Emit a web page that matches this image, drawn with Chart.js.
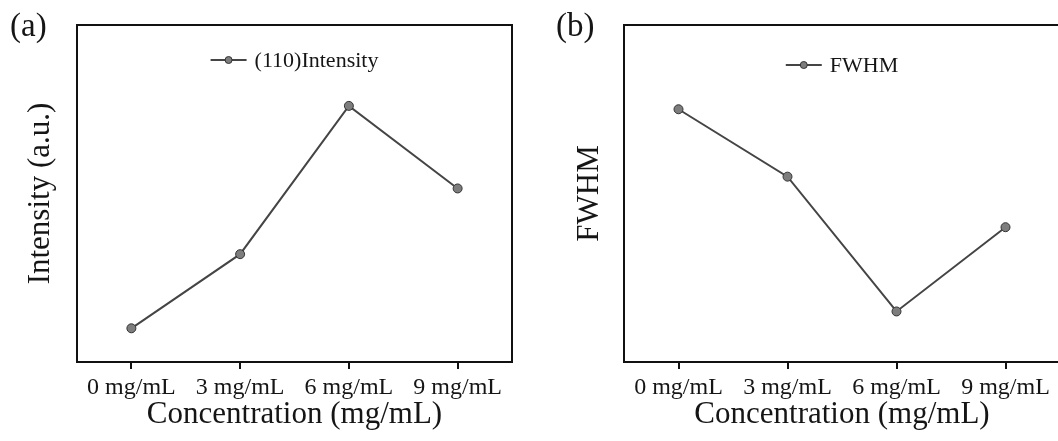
<!DOCTYPE html>
<html>
<head>
<meta charset="utf-8">
<script src="https://cdn.jsdelivr.net/npm/chart.js@4.4.0/dist/chart.umd.min.js"></script>
<style>
html, body { margin: 0; padding: 0; background: #fff; overflow: hidden; width: 1058px; height: 441px; }
.panel { position: absolute; top: 0; height: 441px; }
#pa { left: 0; width: 530px; }
#pb { left: 540px; width: 540px; }
.tag { position: absolute; top: 5px; font: 33px "Liberation Serif", "Times New Roman", serif; color: #151515; line-height: 40px; }
</style>
</head>
<body>
<div class="panel" id="pa"><canvas id="chartA" width="530" height="441"></canvas></div>
<div class="panel" id="pb"><canvas id="chartB" width="540" height="441"></canvas></div>
<div class="tag" style="left:10px">(a)</div>
<div class="tag" style="left:556px">(b)</div>
<script>
"use strict";

const categories = ['0 mg/mL', '3 mg/mL', '6 mg/mL', '9 mg/mL'];
const intensityValues = [10, 32, 76, 51.5];
const fwhmValues = [75, 55, 15, 40];

const SERIF = '"Liberation Serif", "Times New Roman", serif';
const INK = '#151515';

// black box round the plot area
const frame = {
    id: 'frame',
    afterDraw(chart) {
        const {ctx, chartArea: a} = chart;
        ctx.save();
        ctx.strokeStyle = '#111';
        ctx.lineWidth = 2;
        ctx.strokeRect(a.left, a.top, a.right - a.left, a.bottom - a.top);
        ctx.restore();
    }
};

// legend inside the plot: short line with a dot, then the label
const lineLegend = {
    id: 'lineLegend',
    afterDraw(chart, args, o) {
        const {ctx, chartArea: a} = chart;
        const ds = chart.data.datasets[0];
        ctx.save();
        ctx.font = '22px ' + SERIF;
        const tw = ctx.measureText(ds.label).width;
        const symW = 36, gap = 8;
        const x = (a.left + a.right) / 2 - (symW + gap + tw) / 2;
        const y = a.top + o.offsetY;
        ctx.strokeStyle = ds.borderColor;
        ctx.lineWidth = ds.borderWidth;
        ctx.beginPath();
        ctx.moveTo(x, y);
        ctx.lineTo(x + symW, y);
        ctx.stroke();
        ctx.beginPath();
        ctx.arc(x + symW / 2, y, 3.5, 0, Math.PI * 2);
        ctx.fillStyle = ds.pointBackgroundColor;
        ctx.fill();
        ctx.lineWidth = 1;
        ctx.strokeStyle = ds.pointBorderColor;
        ctx.stroke();
        ctx.fillStyle = INK;
        ctx.textBaseline = 'middle';
        ctx.fillText(ds.label, x + symW + gap, y + 1);
        ctx.restore();
    }
};

function makeChart(id, label, values, yTitle, cfg) {
    const ctx = document.getElementById(id).getContext('2d');
    return new Chart(ctx, {
        type: 'line',
        data: {
            labels: categories,
            datasets: [{
                label: label,
                data: values,
                borderColor: '#454545',
                borderWidth: 2,
                pointRadius: 4.5,
                pointBackgroundColor: '#7d7d7d',
                pointBorderColor: '#333',
                pointBorderWidth: 1,
                tension: 0,
            }]
        },
        options: {
            responsive: false,
            animation: false,
            layout: {
                padding: { top: 25, right: cfg.padRight, left: 0, bottom: 0 }
            },
            plugins: {
                legend: { display: false },
                tooltip: { enabled: false },
                lineLegend: { offsetY: cfg.legendY },
            },
            scales: {
                x: {
                    offset: true,
                    border: { display: false },
                    grid: {
                        drawOnChartArea: false,
                        drawTicks: true,
                        tickLength: 7,
                        tickColor: '#111',
                        lineWidth: 2,
                    },
                    ticks: {
                        color: INK,
                        padding: 4,
                        maxRotation: 0,
                        font: { family: SERIF, size: 24 },
                    },
                    title: {
                        display: true,
                        text: 'Concentration (mg/mL)',
                        color: INK,
                        padding: { top: 0, bottom: 8 },
                        font: { family: SERIF, size: 31 },
                    },
                    afterFit: (scale) => { scale.height = 79; },
                },
                y: {
                    min: 0,
                    max: 100,
                    border: { display: false },
                    grid: { display: false },
                    ticks: { display: false },
                    title: {
                        display: true,
                        text: yTitle,
                        color: INK,
                        padding: { top: cfg.titlePad, bottom: 0 },
                        font: { family: SERIF, size: 31 },
                    },
                    afterFit: (scale) => { scale.width = cfg.yWidth; },
                },
            },
        },
        plugins: [frame, lineLegend]
    });
}

makeChart('chartA', '(110)Intensity', intensityValues, 'Intensity (a.u.)',
    { padRight: 18, yWidth: 77, titlePad: 22, legendY: 35 });
makeChart('chartB', 'FWHM', fwhmValues, 'FWHM',
    { padRight: 20, yWidth: 84, titlePad: 31, legendY: 40 });
</script>
</body>
</html>
